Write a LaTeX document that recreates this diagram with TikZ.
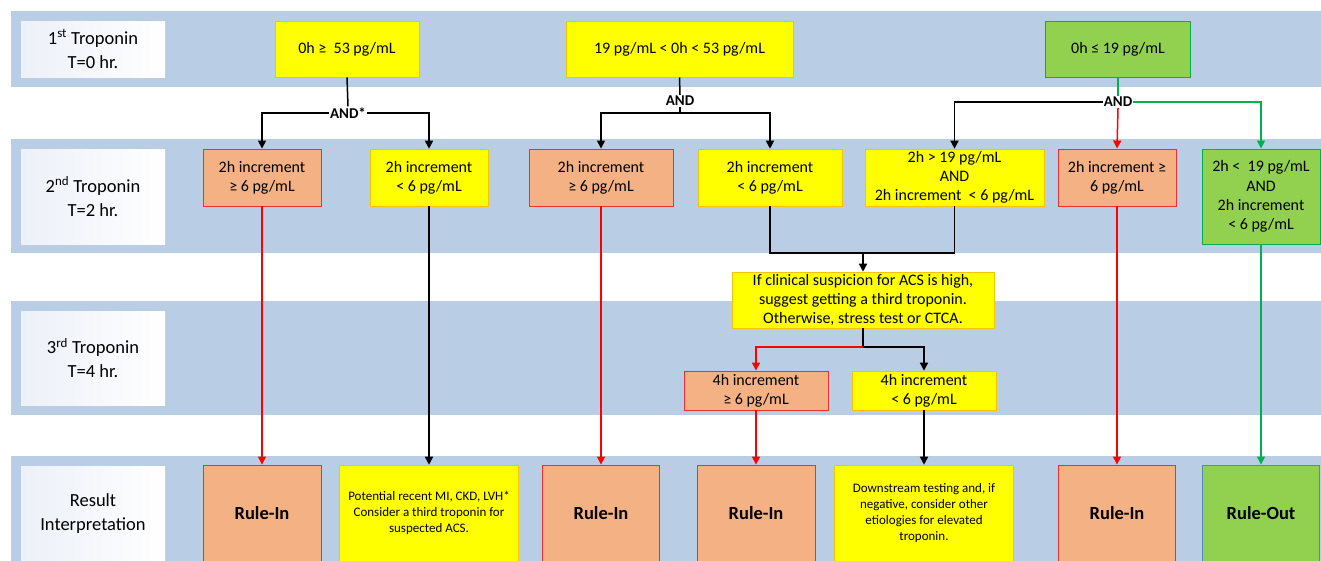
\documentclass[tikz,border=0pt]{standalone}
\usepackage{fontspec}
\setmainfont{Carlito}
\usetikzlibrary{arrows.meta}
\definecolor{band}{HTML}{B9CDE5}
\definecolor{yel}{HTML}{FFFF00}
\definecolor{yelb}{HTML}{F5C400}
\definecolor{sal}{HTML}{F4B183}
\definecolor{redb}{HTML}{F03030}
\definecolor{grn}{HTML}{92D050}
\definecolor{grnb}{HTML}{00B050}
\definecolor{blub}{HTML}{5B84BC}
\definecolor{labl}{HTML}{ECF0F8}
\definecolor{arrred}{HTML}{FF0000}
\definecolor{arrgrn}{HTML}{00B050}
\begin{document}
\begin{tikzpicture}[x=1pt,y=-1pt,
 box/.style={inner sep=0pt, align=center, font=\fontsize{16}{19.3}\selectfont, line width=0.9pt},
 yelbox/.style={box, fill=yel, draw=yelb, line width=0.6pt},
 salbox/.style={box, fill=sal, draw=redb},
 grnbox/.style={box, fill=grn, draw=grnb},
 lab/.style={inner sep=0pt, align=center, left color=labl, right color=white, font=\fontsize{18.5}{24}\selectfont, minimum width=144pt},
 res/.style={font=\fontsize{18.5}{22}\selectfont\bfseries},
 small/.style={font=\fontsize{13}{16}\selectfont},
 andlab/.style={inner sep=1pt, font=\fontsize{15}{18}\selectfont\bfseries},
 conn/.style={line width=1.5pt},
 arr/.style={conn, -{Triangle[length=8pt,width=8pt]}},
]
\useasboundingbox (0,0) rectangle (1321,560);
\clip (0,0) rectangle (1321,560);
% bands
\fill[band] (11,11) rectangle (1321,87);
\fill[band] (11,139) rectangle (1321,253);
\fill[band] (11,301) rectangle (1321,415);
\fill[band] (11,456) rectangle (1321,570);
% row labels
\node[lab, minimum height=56pt] (L1) at (93,49) {1\textsuperscript{st} Troponin\\T=0 hr.};
\node[lab, minimum height=95pt] (L2) at (93,196.5) {2\textsuperscript{nd} Troponin\\T=2 hr.};
\node[lab, minimum height=94pt] (L3) at (93,358) {3\textsuperscript{rd} Troponin\\T=4 hr.};
\node[lab, minimum height=96pt] (L4) at (93,514) {Result\\Interpretation};
% row 1
\node[yelbox, minimum width=144pt, minimum height=56pt] (t1) at (347,49) {0h ≥\ \ 53 pg/mL};
\node[yelbox, minimum width=227pt, minimum height=56pt] (t2) at (679.5,49) {19 pg/mL < 0h < 53 pg/mL};
\node[grnbox, minimum width=145pt, minimum height=56pt] (t3) at (1118,49) {0h ≤ 19 pg/mL};
% row 2
\node[salbox, minimum width=118pt, minimum height=57pt] (a1) at (262,177.5) {2h increment\\≥ 6 pg/mL};
\node[yelbox, minimum width=118pt, minimum height=57pt] (a2) at (429,177.5) {2h increment\\< 6 pg/mL};
\node[salbox, minimum width=144pt, minimum height=57pt] (b1) at (601,177.5) {2h increment\\≥ 6 pg/mL};
\node[yelbox, minimum width=144pt, minimum height=57pt] (b2) at (770,177.5) {2h increment\\< 6 pg/mL};
\node[yelbox, minimum width=179pt, minimum height=57pt] (c1) at (954.5,177.5) {2h > 19 pg/mL\\AND\\2h increment\ \ < 6 pg/mL};
\node[salbox, minimum width=118pt, minimum height=57pt] (c2) at (1117,177.5) {2h increment ≥\\6 pg/mL};
\node[grnbox, minimum width=118pt, minimum height=95pt] (c3) at (1261,196.5) {2h <\ \ 19 pg/mL\\AND\\2h increment\\< 6 pg/mL};
% row 3
\node[yelbox, minimum width=262pt, minimum height=56pt] (clin) at (863,300) {If clinical suspicion for ACS is high,\\suggest getting a third troponin.\\Otherwise, stress test or CTCA.};
\node[salbox, minimum width=144pt, minimum height=39pt] (d1) at (756,390.5) {4h increment\\≥ 6 pg/mL};
\node[yelbox, minimum width=144pt, minimum height=39pt] (d2) at (924,390.5) {4h increment\\< 6 pg/mL};
% row 4
\node[salbox, minimum width=118pt, minimum height=96pt, res] (r1) at (262,513) {Rule-In};
\node[yelbox, minimum width=179pt, minimum height=96pt, small] (r2) at (429,513) {Potential recent MI, CKD, LVH*\\Consider a third troponin for\\suspected ACS.};
\node[salbox, minimum width=117pt, minimum height=96pt, res] (r3) at (601,513) {Rule-In};
\node[salbox, minimum width=118pt, minimum height=96pt, res] (r4) at (756,513) {Rule-In};
\node[yelbox, minimum width=179pt, minimum height=96pt, small] (r5) at (924,513) {Downstream testing and, if\\negative, consider other\\etiologies for elevated\\troponin.};
\node[salbox, minimum width=117pt, minimum height=96pt, res] (r6) at (1117,513) {Rule-In};
\node[grnbox, draw=blub, minimum width=117pt, minimum height=96pt, res] (r7) at (1261,513) {Rule-Out};
% AND labels
\node[andlab] (and1) at (348,113) {AND*};
\node[andlab] (and2) at (680,101) {AND};
\node[andlab] (and3) at (1118,102) {AND};
\coordinate (j2) at (680,113);
\coordinate (m) at (863,253);
\coordinate (s) at (863,347);
% connectors row1 -> row2
\draw[conn] (t1.south) -- (and1.north);
\draw[arr] (and1.west) -| (a1.north);
\draw[arr] (and1.east) -| (a2.north);
\draw[conn] (t2.south) -- (and2.north);
\draw[conn] (and2.south) -- (j2);
\draw[arr] (j2) -| (b1.north);
\draw[arr] (j2) -| (b2.north);
\draw[conn, arrgrn] (t3.south) -- (and3.north);
\draw[arr] (and3.west) -| (c1.north);
\draw[arr, arrred] (and3.south) -- (c2.north);
\draw[arr, arrgrn] (and3.east) -| (c3.north);
% row2 -> others
\draw[arr, arrred] (a1.south) -- (r1.north);
\draw[arr] (a2.south) -- (r2.north);
\draw[arr, arrred] (b1.south) -- (r3.north);
\draw[conn] (b2.south) |- (m) -| (c1.south);
\draw[arr] (m) -- (clin.north);
\draw[conn] (clin.south) -- (s);
\draw[arr, arrred] (s) -| (d1.north);
\draw[arr] (s) -| (d2.north);
\draw[arr, arrred] (d1.south) -- (r4.north);
\draw[arr] (d2.south) -- (r5.north);
\draw[arr, arrred] (c2.south) -- (r6.north);
\draw[arr, arrgrn] (c3.south) -- (r7.north);
\end{tikzpicture}
\end{document}
